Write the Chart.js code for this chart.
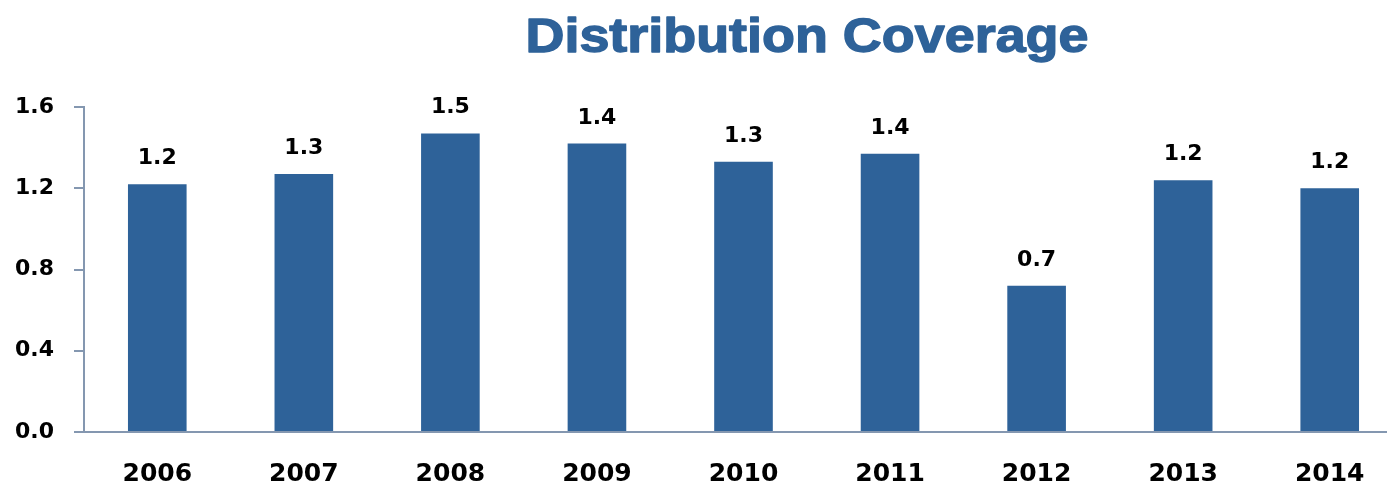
<html>
<head>
    <script src="https://cdn.jsdelivr.net/npm/chart.js@4/dist/chart.umd.min.js"></script>
    <title>Distribution Coverage</title>
    <style>
        body { margin: 0; overflow: hidden; background: #fff; }
        #wrap { width: 1405px; height: 483px; }
    </style>
</head>
<body>
<div id="wrap"><canvas id="coverage-chart"></canvas></div>

<script>
    // yearly distribution coverage
    var years = ['2006', '2007', '2008', '2009', '2010', '2011', '2012', '2013', '2014'];
    var coverage = [1.22, 1.27, 1.47, 1.42, 1.33, 1.37, 0.72, 1.24, 1.20];
    var yTicks = [0.0, 0.4, 0.8, 1.2, 1.6];

    var barColor = '#2e6299';
    var axisColor = '#8497b0';
    var numFont = '"DejaVu Sans", Verdana, sans-serif';

    // title and value labels drawn straight on the canvas
    var labelsPlugin = {
        id: 'coverageLabels',
        afterDatasetsDraw: function(chart) {
            var ctx = chart.ctx;
            ctx.save();
            ctx.fillStyle = '#000';
            ctx.font = 'bold 22px ' + numFont;
            ctx.textAlign = 'center';
            ctx.textBaseline = 'alphabetic';
            chart.getDatasetMeta(0).data.forEach(function(bar, i) {
                ctx.fillText(coverage[i].toFixed(1), bar.x, bar.y - 20);
            });

            // heavy, slightly widened title
            ctx.translate(807, 52);
            ctx.scale(1.1, 1);
            ctx.fillStyle = barColor;
            ctx.strokeStyle = barColor;
            ctx.lineWidth = 1.4;
            ctx.lineJoin = 'round';
            ctx.font = 'bold 49px "Liberation Sans", Arial, sans-serif';
            ctx.fillText('Distribution Coverage', 0, 0);
            ctx.strokeText('Distribution Coverage', 0, 0);
            ctx.restore();
        }
    };

    var chart = new Chart(document.getElementById('coverage-chart'), {
        type: 'bar',
        data: {
            labels: years,
            datasets: [{
                data: coverage,
                backgroundColor: barColor,
                categoryPercentage: 1.0,
                barPercentage: 0.4
            }]
        },
        options: {
            responsive: true,
            maintainAspectRatio: false,
            animation: false,
            layout: { padding: { top: 107, right: 2, bottom: 0, left: 0 } },
            plugins: {
                legend: { display: false },
                tooltip: { enabled: false }
            },
            scales: {
                x: {
                    grid: { display: false, drawTicks: false },
                    border: { color: axisColor, width: 2 },
                    ticks: {
                        color: '#000',
                        padding: 27,
                        font: { family: numFont, size: 25, weight: 'bold' }
                    },
                    afterFit: function(scale) { scale.height = 51; }
                },
                y: {
                    min: 0,
                    max: 1.6,
                    afterBuildTicks: function(scale) {
                        scale.ticks = yTicks.map(function(v) { return { value: v }; });
                    },
                    grid: { drawOnChartArea: false, color: axisColor, lineWidth: 2, tickLength: 10 },
                    border: { color: axisColor, width: 2 },
                    ticks: {
                        color: '#000',
                        padding: 20,
                        callback: function(v) { return Number(v).toFixed(1); },
                        font: { family: numFont, size: 22, weight: 'bold' }
                    },
                    afterFit: function(scale) { scale.width = 84; }
                }
            }
        },
        plugins: [labelsPlugin]
    });
</script>
</body>
</html>
